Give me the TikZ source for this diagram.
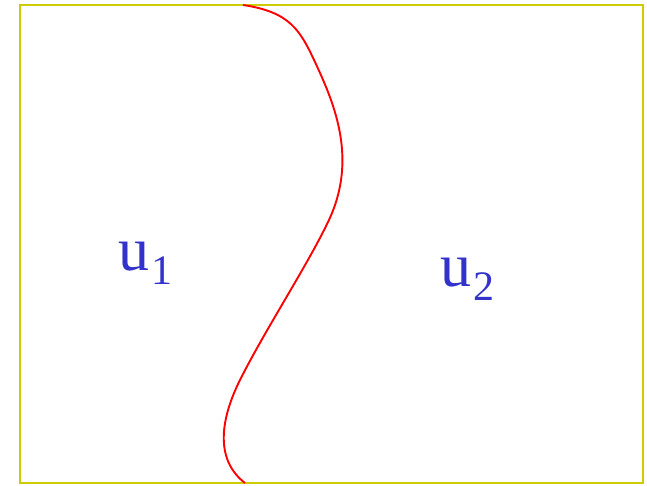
\documentclass[tikz,border=0pt]{standalone}
\usepackage{fontspec}
\setmainfont{Liberation Serif}
\definecolor{boxyellow}{RGB}{204,204,0}
\definecolor{lblue}{RGB}{51,51,204}
\tikzset{
  frame/.style={draw=boxyellow,line width=2pt},
  curve/.style={draw=red,line width=1.9pt},
  lbl/.style={text=lblue,anchor=base west,inner sep=0pt,font=\fontsize{62}{66}\selectfont}
}
\newcommand{\ulab}[1]{u\kern2pt\raisebox{-14pt}{\fontsize{42}{46}\selectfont #1}}
\begin{document}
\begin{tikzpicture}[x=1pt,y=-1pt]
\useasboundingbox (0,0) rectangle (647,485);
\fill[white] (0,0) rectangle (647,485);
\draw[frame] (20,5) rectangle (643,483);
\coordinate (top) at (243,5);
\coordinate (bot) at (245,483);
\draw[curve] (top) .. controls (290,12) and (300,30) .. (315,62)
  .. controls (335,105) and (358,160) .. (328,222)
  .. controls (307,266) and (265,330) .. (240,380)
  .. controls (220,420) and (215,460) .. (bot);
\node[lbl] (u1) at (118,270) {\ulab{1}};
\node[lbl] (u2) at (440,286) {\ulab{2}};
\end{tikzpicture}
\end{document}
